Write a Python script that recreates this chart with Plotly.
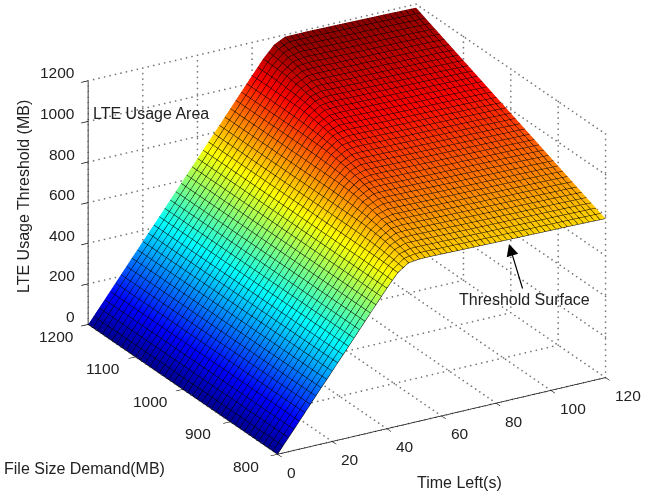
import plotly.graph_objects as go

time_left = [0,4,8,12,16,20,24,28,32,36,40,44,48,52,56,60,64,68,72,80,90,100,110,120]
file_size = [800,825,850,875,900,925,950,975,1000,1025,1050,1075,1100,1125,1150,1175,1200]
threshold = [
 [0,69,138,208,277,346,415,484,554,623,692,756,792,798,798,797,796,795,794,792,790,788,786,783],
 [0,69,138,208,277,346,415,484,554,623,692,760,807,823,823,822,821,820,819,817,815,813,811,808],
 [0,69,138,208,277,346,415,484,554,623,692,761,818,846,848,847,846,845,844,842,840,838,836,833],
 [0,69,138,208,277,346,415,484,554,623,692,761,826,864,873,872,871,870,869,867,865,863,861,858],
 [0,69,138,208,277,346,415,484,554,623,692,761,830,879,898,897,896,895,894,892,890,888,886,883],
 [0,69,138,208,277,346,415,484,554,623,692,761,830,890,919,922,921,920,919,917,915,913,911,908],
 [0,69,138,208,277,346,415,484,554,623,692,761,830,897,937,947,946,945,944,942,940,938,936,933],
 [0,69,138,208,277,346,415,484,554,623,692,761,830,900,951,971,971,970,969,967,965,963,961,958],
 [0,69,138,208,277,346,415,484,554,623,692,761,830,900,961,992,996,995,994,992,990,988,986,983],
 [0,69,138,208,277,346,415,484,554,623,692,761,830,900,967,1009,1021,1020,1019,1017,1015,1013,1011,1008],
 [0,69,138,208,277,346,415,484,554,623,692,761,830,900,969,1022,1045,1045,1044,1042,1040,1038,1036,1033],
 [0,69,138,208,277,346,415,484,554,623,692,761,830,900,969,1031,1065,1070,1069,1067,1065,1063,1061,1058],
 [0,69,138,208,277,346,415,484,554,623,692,761,830,900,969,1037,1081,1095,1094,1092,1090,1088,1086,1083],
 [0,69,138,208,277,346,415,484,554,623,692,761,830,900,969,1038,1093,1118,1119,1117,1115,1113,1111,1108],
 [0,69,138,208,277,346,415,484,554,623,692,761,830,900,969,1038,1102,1138,1144,1142,1140,1138,1136,1133],
 [0,69,138,208,277,346,415,484,554,623,692,761,830,900,969,1038,1106,1153,1169,1167,1165,1163,1161,1158],
 [0,69,138,208,277,346,415,484,554,623,692,761,830,900,969,1038,1107,1164,1191,1192,1190,1188,1186,1183],
]
time_ticks = [0,20,40,60,80,100,120]
size_ticks = [800,900,1000,1100,1200]
z_ticks = [0,200,400,600,800,1000,1200]

W, H = 654, 491
FONT = "Liberation Sans"
TXT = "#222222"

jet = [[0,"rgb(0,0,143)"],[0.11,"rgb(0,0,255)"],[0.365,"rgb(0,255,255)"],
       [0.615,"rgb(255,255,0)"],[0.865,"rgb(255,0,0)"],[1,"rgb(128,0,0)"]]

gx, gy, gz = [], [], []
def seg(a, b, n):
    for i in range(n + 1):
        f = i / n
        gx.append(a[0] + (b[0]-a[0])*f); gy.append(a[1] + (b[1]-a[1])*f); gz.append(a[2] + (b[2]-a[2])*f)
tmax, smin, smax, zmax = time_ticks[-1], size_ticks[0], size_ticks[-1], z_ticks[-1]
for t in time_ticks:
    seg((t,smin,0),(t,smax,0),46)
    seg((t,smax,0),(t,smax,zmax),44)
for s in size_ticks:
    seg((0,s,0),(tmax,s,0),60)
    seg((tmax,s,0),(tmax,s,zmax),44)
for z in z_ticks:
    seg((0,smax,z),(tmax,smax,z),60)
    seg((tmax,smax,z),(tmax,smin,z),46)

surface = go.Surface(
    x=time_left, y=file_size, z=threshold, colorscale=jet, cmin=0, cmax=1200, showscale=False,
    lighting=dict(ambient=1, diffuse=0, specular=0, roughness=1, fresnel=0),
    contours=dict(
        x=dict(show=True, start=0, end=120, size=2, color="black", width=3),
        y=dict(show=True, start=800, end=1200, size=10, color="black", width=3),
    ),
    hoverinfo="skip",
)
grid = go.Scatter3d(x=gx, y=gy, z=gz, mode="markers", marker=dict(color="#777777", size=1, line=dict(width=0)),
                    hoverinfo="skip", showlegend=False)

axis = dict(showbackground=False, showgrid=False, zeroline=False, showline=True, linecolor="black",
            linewidth=1.5, ticks="outside", ticklen=8, tickwidth=1.5, tickcolor="black", title=dict(text=""),
            showticklabels=False, showspikes=False)

def ann(text, px, py, **kw):
    return dict(text=text, x=px/W, y=1-py/H, xref="paper", yref="paper", showarrow=False,
                xanchor="center", yanchor="middle",
                font=dict(family=FONT, size=16, color=TXT), **kw)

def tick_label(x, y, z, text, xanchor, xshift, yshift):
    return dict(x=x, y=y, z=z, text=text, showarrow=False, xanchor=xanchor, yanchor="middle",
                xshift=xshift, yshift=yshift, font=dict(family=FONT, size=15.5, color=TXT))

tick_labels = (
    [tick_label(t, smin, 0, str(t), "left", 7, -18) for t in time_ticks]
    + [tick_label(0, s, 0, str(s), "center", -32, -12) for s in size_ticks]
    + [tick_label(0, smax, z, str(z), "right", -11, 8) for z in z_ticks]
)

cv = (-0.083, 0.018, -0.061)
eye = (-0.462*1.9 + cv[0], -0.791*1.9 + cv[1], 0.400*1.9 + cv[2])

fig = go.Figure([surface, grid])
fig.update_layout(
    width=W, height=H, margin=dict(l=0, r=0, t=0, b=0, autoexpand=False), paper_bgcolor="white", showlegend=False,
    scene=dict(
        xaxis=dict(axis, range=[0,120], tickvals=time_ticks),
        yaxis=dict(axis, range=[800,1200], tickvals=size_ticks),
        zaxis=dict(axis, range=[0,1200], tickvals=z_ticks),
        aspectmode="manual", aspectratio=dict(x=1.547, y=1.53, z=1.083),
        camera=dict(projection=dict(type="orthographic"),
                    center=dict(x=cv[0], y=cv[1], z=cv[2]),
                    eye=dict(x=eye[0], y=eye[1], z=eye[2]),
                    up=dict(x=0,y=0,z=1)),
        domain=dict(x=[0,1], y=[0,1]),
        annotations=tick_labels,
    ),
    annotations=[
        ann("LTE Usage Threshold (MB)", 23, 197, textangle=-90),
        ann("File Size Demand(MB)", 85, 468),
        ann("Time Left(s)", 459, 482),
        ann("LTE Usage Area", 151, 113),
        ann("Threshold Surface", 524, 299),
        dict(x=509/W, y=1-244/H, xref="paper", yref="paper", ax=14, ay=46, showarrow=True,
             arrowhead=2, arrowsize=2, arrowwidth=1.2, arrowcolor="black", text=""),
    ],
)
fig.write_html("out.html", config={"displayModeBar": False}, post_script="document.body.style.margin='0';")
